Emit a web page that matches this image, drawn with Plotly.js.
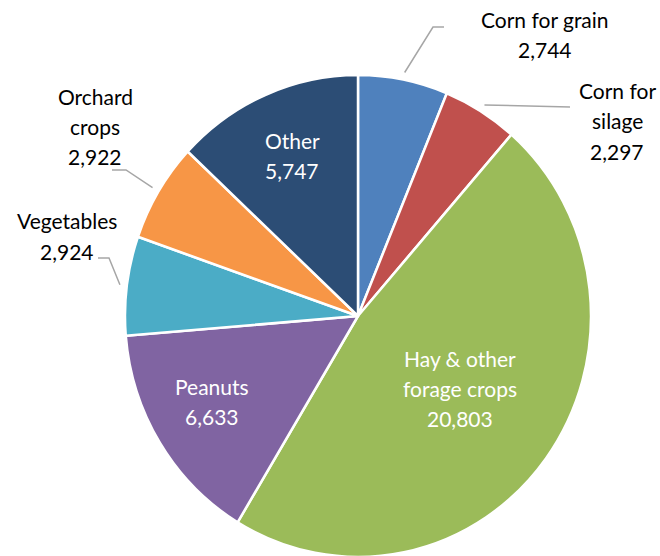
<!DOCTYPE html>
<html>
<head>
<meta charset="utf-8">
<script src="https://cdn.plot.ly/plotly-3.0.1.min.js"></script>
<style>
html,body{margin:0;padding:0;background:#fff;overflow:hidden}
#chart{width:660px;height:556px;}
</style>
</head>
<body>
<div id="chart"></div>
<script>
const categories = ['Corn for grain','Corn for silage','Hay & other forage crops','Peanuts','Vegetables','Orchard crops','Other'];
const labelLines = [['Corn for grain'],['Corn for','silage'],['Hay & other','forage crops'],['Peanuts'],['Vegetables'],['Orchard','crops'],['Other']];
const values = [2744, 2297, 20803, 6633, 2924, 2922, 5747];
const colors = ['#4F81BD','#C0504D','#9BBB59','#8064A2','#4BACC6','#F79646','#2C4D75'];

const W = 660, H = 556;
const CX = 358, CY = 316, R = 233, SY = 241 / 233; // pie in the picture is slightly taller than wide
const labelCfg = [
  {x:545, y:19, inside:false, elbow:[[433,27],[444,27]]},
  {x:617, y:91, inside:false, elbow:[[570,107]]},
  {x:460, y:358, inside:true},
  {x:212, y:386, inside:true},
  {x:67,  y:221, inside:false, elbow:[[109,258],[98,258]]},
  {x:95,  y:96,  inside:false, elbow:[[126,170],[112,170]]},
  {x:292, y:140, inside:true}
];
const LS = 30;
const px = x => x / W, py = y => 1 - y / H;

const total = values.reduce((a,b)=>a+b,0);
const annotations = [], shapes = [];
let cum = 0;
values.forEach((v,i) => {
  const mid = (cum + v/2) / total * 2 * Math.PI;
  cum += v;
  const cfg = labelCfg[i];
  const lines = labelLines[i].concat([v.toLocaleString('en-US')]);
  lines.forEach((t,k) => {
    annotations.push({
      xref:'paper', yref:'paper', x:px(cfg.x), y:py(cfg.y + k*LS),
      xanchor:'center', yanchor:'middle', showarrow:false, text:t,
      font:{family:'Lato, "Open Sans", sans-serif', size:21, color: cfg.inside ? '#FFFFFF' : '#000000'}
    });
  });
  if (!cfg.inside) {
    const sx = CX + R*1.03*Math.sin(mid), sy = CY - R*SY*1.03*Math.cos(mid);
    let path = 'M' + px(sx) + ',' + py(sy);
    cfg.elbow.forEach(p => { path += ' L' + px(p[0]) + ',' + py(p[1]); });
    shapes.push({type:'path', xref:'paper', yref:'paper', path:path, line:{color:'#A6A6A6', width:1.5}});
  }
});

const trace = {
  type:'pie', labels:categories, values:values, sort:false, direction:'clockwise', rotation:0,
  marker:{colors:colors, line:{color:'#FFFFFF', width:2.5}},
  textinfo:'none', hoverinfo:'label+value',
  domain:{x:[(CX-R)/W,(CX+R)/W], y:[(H-CY-R)/H,(H-CY+R)/H]}
};
const layout = {
  width:W, height:H, margin:{l:0,r:0,t:0,b:0}, showlegend:false,
  paper_bgcolor:'#FFFFFF', annotations:annotations, shapes:shapes
};
Plotly.newPlot('chart',[trace],layout,{displayModeBar:false,staticPlot:true}).then(gd => {
  const pl = gd.querySelector('.pielayer');
  if (pl) pl.setAttribute('transform', 'translate(0,' + CY + ') scale(1,' + SY + ') translate(0,' + (-CY) + ')');
});
</script>
</body>
</html>
